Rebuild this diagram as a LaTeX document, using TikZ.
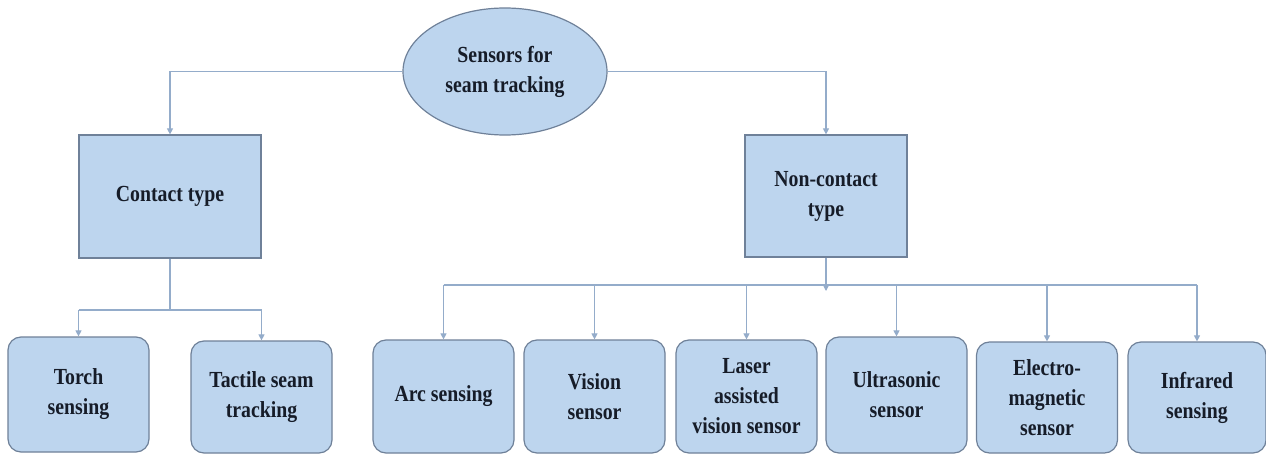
\documentclass[tikz,border=0pt]{standalone}
\usepackage{fontspec}
\setmainfont{Liberation Serif}[FakeStretch=0.86]
\usetikzlibrary{arrows.meta,shapes.geometric}
\definecolor{boxfill}{HTML}{BDD5EE}
\definecolor{boxline}{HTML}{6F8199}
\definecolor{linkcol}{HTML}{94ACCA}
\definecolor{txt}{HTML}{161C28}
\begin{document}
\begin{tikzpicture}[x=1pt,y=-1pt,
  every node/.style={font=\fontsize{23}{30}\selectfont\bfseries, text=txt, align=center, inner sep=0pt},
  sqbox/.style={draw=boxline, fill=boxfill, line width=1.2pt, rectangle},
  rbox/.style={draw=boxline, fill=boxfill, line width=1.2pt, rounded corners=13pt, minimum width=141pt},
  ell/.style={draw=boxline, fill=boxfill, line width=1.2pt, ellipse, minimum width=204pt, minimum height=127pt},
  link/.style={draw=linkcol, line width=1.1pt},
  arr/.style={link, -{Triangle[width=6pt,length=6pt]}}
]
\useasboundingbox (0,0) rectangle (1266,454);
\fill[white] (0,0) rectangle (1266,454);

\node[ell] (root) at (505,71.5) {Sensors for\\seam tracking};
\node[sqbox, minimum width=182pt, minimum height=123pt] (contact) at (170,196.5) {Contact type};
\node[sqbox, minimum width=162pt, minimum height=122pt] (noncontact) at (826,196) {Non-contact\\type};

\node[rbox, minimum height=115pt] (torch) at (78.5,394.5) {Torch\\sensing};
\node[rbox, minimum height=112pt] (tactile) at (261.5,397) {Tactile seam\\tracking};
\node[rbox, minimum height=113pt] (arc) at (443.5,396.5) {Arc sensing};
\node[rbox, minimum height=113pt] (vision) at (594.5,396.5) {Vision\\sensor};
\node[rbox, minimum height=113pt] (laser) at (746.5,396.5) {Laser\\assisted\\vision sensor};
\node[rbox, minimum height=116pt] (ultra) at (896.5,395) {Ultrasonic\\sensor};
\node[rbox, minimum height=111pt] (electro) at (1047,397.5) {Electro-\\magnetic\\sensor};
\node[rbox, minimum height=111pt, minimum width=138pt] (infra) at (1197,397.5) {Infrared\\sensing};

% top level
\draw[arr] (root.west) -| (contact.north);
\draw[arr] (root.east) -| (noncontact.north);

% contact branch
\coordinate (cbus) at (0,310);
\draw[link] (contact.south) -- (contact.south |- cbus);
\draw[link] (torch.north |- cbus) -- (tactile.north |- cbus);
\draw[arr] (torch.north |- cbus) -- (torch.north);
\draw[arr] (tactile.north |- cbus) -- (tactile.north);

% non-contact branch
\coordinate (nbus) at (0,285);
\coordinate (nend) at (826,291);
\draw[arr] (noncontact.south) -- (nend);
\draw[link] (arc.north |- nbus) -- (infra.north |- nbus);
\foreach \n in {arc,vision,laser,ultra,electro,infra}{
  \draw[arr] (\n.north |- nbus) -- (\n.north);
}
\end{tikzpicture}
\end{document}
